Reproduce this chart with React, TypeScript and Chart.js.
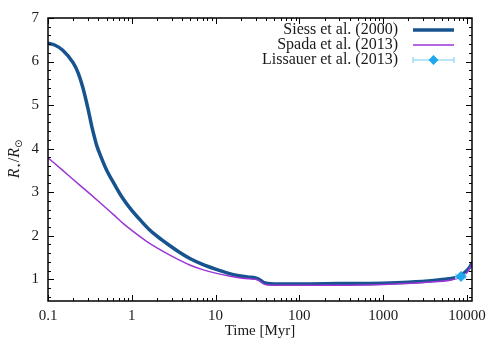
import React, { useEffect, useRef } from 'react';
import { Chart, registerables } from 'chart.js';
Chart.register(...registerables);

const FONT = '"Liberation Serif", "Times New Roman", serif';
const TEXT = '#1a1a1a';

// Siess et al. (2000)
const timeSiess = [0.1, 0.12, 0.15, 0.2, 0.23, 0.26, 0.3, 0.334, 0.36, 0.38, 0.44, 0.5, 0.63, 0.78, 1.0, 1.25, 1.6, 2.0, 2.8, 3.7, 5, 7, 10, 14, 19, 24, 30, 33, 37, 42, 50, 100, 300, 1000, 2000, 4000, 6000, 8000, 10000, 11000, 11500];
const radiusSiess = [6.42, 6.38, 6.26, 5.97, 5.73, 5.41, 4.92, 4.5, 4.25, 4.08, 3.76, 3.51, 3.16, 2.86, 2.58, 2.37, 2.15, 1.99, 1.78, 1.62, 1.47, 1.34, 1.23, 1.14, 1.08, 1.05, 1.03, 1.0, 0.93, 0.9, 0.89, 0.89, 0.9, 0.91, 0.93, 0.97, 1.01, 1.06, 1.2, 1.3, 1.38];

// Spada et al. (2013)
const timeSpada = [0.1, 0.15, 0.2, 0.3, 0.4, 0.6, 0.8, 1.0, 1.5, 2.0, 3.0, 5.0, 7.0, 10, 15, 20, 25, 30, 33, 37, 42, 100, 1000, 4000, 7000, 10000, 11500];
const radiusSpada = [3.79, 3.5, 3.29, 3.0, 2.79, 2.49, 2.27, 2.12, 1.87, 1.72, 1.53, 1.32, 1.22, 1.14, 1.07, 1.03, 1.01, 1.0, 0.97, 0.9, 0.87, 0.86, 0.88, 0.94, 1.0, 1.15, 1.35];

// Lissauer et al. (2013)
const lissAge = [8500];
const lissAgeErr = [1100];
const lissRadius = [1.065];
const lissRadiusErr = [0.016];

const xTickValues = [0.1, 1, 10, 100, 1000, 10000];
const yTickValues = [1, 2, 3, 4, 5, 6, 7];

const legendLabels = ['Siess et al. (2000)', 'Spada et al. (2013)', 'Lissauer et al. (2013)'];

const BLUE = '#17538e';
const PURPLE = '#9b35d6';
const LBLUE = '#1ea7ee';
const LBLUE_BAR = '#a3ddf8';

const framePlugin = {
  id: 'frame',
  beforeDatasetDraw(chart: any, args: any) {
    if (args.index !== 2) return;
    const { ctx, scales: { x, y } } = chart;
    ctx.save();
    ctx.strokeStyle = LBLUE_BAR;
    ctx.lineWidth = 1.5;
    lissAge.forEach((a, i) => {
      const x0 = x.getPixelForValue(a - lissAgeErr[i]);
      const x1 = x.getPixelForValue(a + lissAgeErr[i]);
      const py = y.getPixelForValue(lissRadius[i]);
      const px = x.getPixelForValue(a);
      const y0 = y.getPixelForValue(lissRadius[i] - lissRadiusErr[i]);
      const y1 = y.getPixelForValue(lissRadius[i] + lissRadiusErr[i]);
      ctx.beginPath();
      ctx.moveTo(x0, py); ctx.lineTo(x1, py);
      ctx.moveTo(x0, py - 3); ctx.lineTo(x0, py + 3);
      ctx.moveTo(x1, py - 3); ctx.lineTo(x1, py + 3);
      ctx.moveTo(px, y0); ctx.lineTo(px, y1);
      ctx.stroke();
    });
    ctx.restore();
  },
  afterDraw(chart: any) {
    const { ctx, chartArea: { left, right, top, bottom }, scales: { x, y } } = chart;
    ctx.save();
    ctx.strokeStyle = '#000';
    ctx.lineWidth = 1;
    ctx.beginPath();
    for (let d = -1; d <= 4; d++) {
      for (let m = 1; m <= 9; m++) {
        const v = m * Math.pow(10, d);
        if (v < x.min - 1e-9 || v > x.max) continue;
        const px = Math.round(x.getPixelForValue(v)) + 0.5;
        const len = m === 1 ? 6 : 3;
        ctx.moveTo(px, bottom); ctx.lineTo(px, bottom - len);
        ctx.moveTo(px, top); ctx.lineTo(px, top + len);
      }
    }
    for (let k = 3; k <= 35; k++) {
      const v = k * 0.2;
      const py = Math.round(y.getPixelForValue(v)) + 0.5;
      const major = k % 5 === 0;
      const len = major ? 6 : 3;
      ctx.moveTo(left, py); ctx.lineTo(left + len, py);
      ctx.moveTo(right, py); ctx.lineTo(right - len, py);
    }
    ctx.stroke();
    ctx.lineWidth = 1.5;
    ctx.strokeRect(left, top, right - left, bottom - top);

    // legend
    const textRight = 398;
    const s0 = 413, s1 = 454;
    const rows = [30, 45, 60];
    ctx.font = '16px ' + FONT;
    ctx.fillStyle = TEXT;
    ctx.textAlign = 'right';
    ctx.textBaseline = 'middle';
    legendLabels.forEach((l, i) => ctx.fillText(l, textRight, rows[i]));
    ctx.lineCap = 'butt';
    ctx.strokeStyle = BLUE; ctx.lineWidth = 3.5;
    ctx.beginPath(); ctx.moveTo(s0, rows[0]); ctx.lineTo(s1, rows[0]); ctx.stroke();
    ctx.strokeStyle = PURPLE; ctx.lineWidth = 1.5;
    ctx.beginPath(); ctx.moveTo(s0, rows[1]); ctx.lineTo(s1, rows[1]); ctx.stroke();
    ctx.strokeStyle = LBLUE_BAR; ctx.lineWidth = 1.5;
    ctx.beginPath();
    ctx.moveTo(s0, rows[2]); ctx.lineTo(s1, rows[2]);
    ctx.moveTo(s0, rows[2] - 3); ctx.lineTo(s0, rows[2] + 3);
    ctx.moveTo(s1, rows[2] - 3); ctx.lineTo(s1, rows[2] + 3);
    ctx.stroke();
    const cx = (s0 + s1) / 2, cy = rows[2], r = 5;
    ctx.fillStyle = LBLUE;
    ctx.beginPath();
    ctx.moveTo(cx, cy - r); ctx.lineTo(cx + r, cy); ctx.lineTo(cx, cy + r); ctx.lineTo(cx - r, cy);
    ctx.closePath(); ctx.fill();

    // x title
    ctx.fillStyle = TEXT;
    ctx.textAlign = 'center';
    ctx.textBaseline = 'middle';
    ctx.font = '15px ' + FONT;
    ctx.fillText('Time [Myr]', (left + right) / 2, 331);

    // y title: R_star / R_sun
    ctx.save();
    ctx.translate(14, 159);
    ctx.rotate(-Math.PI / 2);
    const parts: [string, string, number][] = [
      ['R', 'italic 16px ' + FONT, 0],
      ['\u22C6', '10px "DejaVu Sans", ' + FONT, 3],
      ['/', '16px ' + FONT, 0],
      ['R', 'italic 16px ' + FONT, 0],
      ['\u2299', '10px "DejaVu Sans", ' + FONT, 3],
    ];
    let total = 0;
    parts.forEach(([t, f]) => { ctx.font = f; total += ctx.measureText(t).width; });
    let cur = -total / 2;
    ctx.textAlign = 'left';
    ctx.textBaseline = 'alphabetic';
    parts.forEach(([t, f, dy]) => {
      ctx.font = f;
      ctx.fillText(t, cur, 5 + dy);
      cur += ctx.measureText(t).width;
    });
    ctx.restore();
    ctx.restore();
  },
};

export default function App() {
  const ref = useRef<HTMLCanvasElement>(null);
  useEffect(() => {
    document.body.style.margin = '0';
    const chart = new Chart(ref.current as HTMLCanvasElement, {
      type: 'line',
      data: {
        datasets: [
          {
            label: legendLabels[0],
            data: timeSiess.map((t, i) => ({ x: t, y: radiusSiess[i] })),
            borderColor: BLUE,
            borderWidth: 3.5,
            pointRadius: 0,
            cubicInterpolationMode: 'monotone',
            fill: false,
            order: 3,
          },
          {
            label: legendLabels[1],
            data: timeSpada.map((t, i) => ({ x: t, y: radiusSpada[i] })),
            borderColor: PURPLE,
            borderWidth: 1.5,
            pointRadius: 0,
            cubicInterpolationMode: 'monotone',
            fill: false,
            order: 2,
          },
          {
            label: legendLabels[2],
            data: lissAge.map((t, i) => ({ x: t, y: lissRadius[i] })),
            showLine: false,
            pointStyle: 'rectRot',
            pointRadius: 5,
            pointBackgroundColor: LBLUE,
            pointBorderColor: LBLUE,
            borderColor: LBLUE,
            order: 1,
          },
        ],
      } as any,
      options: {
        responsive: false,
        animation: false,
        events: [],
        layout: { padding: { top: 17, right: 28, left: 0, bottom: 0 } },
        plugins: { legend: { display: false }, tooltip: { enabled: false } },
        scales: {
          x: {
            type: 'logarithmic',
            min: 0.1,
            max: 11500,
            grid: { display: false, drawTicks: false },
            border: { display: false },
            ticks: {
              font: { family: FONT, size: 15 },
              color: TEXT,
              padding: 6,
              maxRotation: 0,
              autoSkip: false,
              callback: (v: any) => String(v),
            },
            afterBuildTicks: (s: any) => { s.ticks = xTickValues.map((v) => ({ value: v })); },
            afterFit: (s: any) => { s.height = 49; },
          },
          y: {
            type: 'linear',
            min: 0.5,
            max: 7,
            grid: { display: false, drawTicks: false },
            border: { display: false },
            ticks: {
              font: { family: FONT, size: 15 },
              color: TEXT,
              padding: 9,
              callback: (v: any) => String(v),
            },
            afterBuildTicks: (s: any) => { s.ticks = yTickValues.map((v) => ({ value: v })); },
            afterFit: (s: any) => { s.width = 48; },
          },
        },
      } as any,
      plugins: [framePlugin],
    });
    return () => chart.destroy();
  }, []);
  return (
    <div style={{ width: 500, height: 350, position: 'relative' }}>
      <canvas ref={ref} width={500} height={350} style={{ display: 'block' }} />
    </div>
  );
}
